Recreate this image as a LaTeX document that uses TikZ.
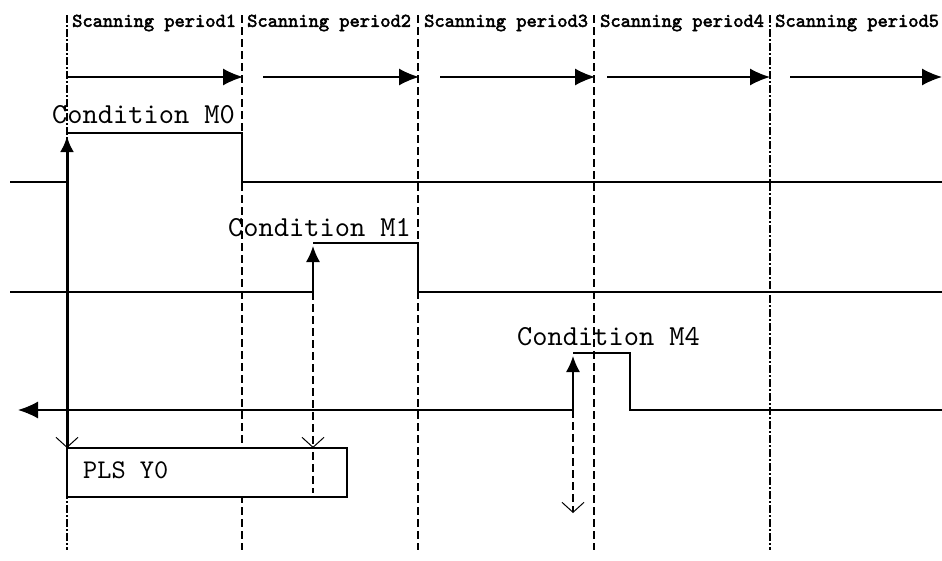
\documentclass[tikz,border=0pt]{standalone}
\usepackage{fontspec}
\newfontfamily\monofont{lmmono10-regular.otf}
\newfontfamily\boldmono[FakeBold=2.5]{lmmono10-regular.otf}
\usetikzlibrary{arrows.meta}
\begin{document}
\begin{tikzpicture}[x=1pt,y=-1pt,
 vline/.style={line width=1.2pt, dash pattern=on 8pt off 4pt},
 vlinedd/.style={line width=1.8pt, dash pattern=on 8pt off 2pt on 2pt off 2pt},
 sig/.style={line width=1.4pt},
 period/.style={font=\boldmono\fontsize{19.5}{19.5}\selectfont, anchor=west, inner sep=0pt},
 cond/.style={font=\monofont\fontsize{29}{29}\selectfont, anchor=west, inner sep=0pt},
 topar/.style={line width=1.4pt, -{Latex[length=20pt,width=17pt]}},
 uptip/.style={-{Latex[length=16pt,width=14pt]}},
 opentip/.style={-{Straight Barb[length=10pt,width=22pt,line width=1pt]}},
]
\useasboundingbox[fill=white] (0,0) rectangle (942,560);
% time coordinates
\foreach \n/\x in {a/67,b/242,c/418,d/594,e/770}{
  \coordinate (\n top) at (\x,15);
  \coordinate (\n bot) at (\x,550);
}
\draw[vlinedd] (atop) -- (abot);
\draw[vline] (btop) -- (bbot);
\draw[vline] (ctop) -- (cbot);
\draw[vline] (dtop) -- (dbot);
\draw[vlinedd] (etop) -- (ebot);
% period labels
\node[period] (p1) at (72,23) {Scanning period1};
\node[period] (p2) at (247,23) {Scanning period2};
\node[period] (p3) at (424,23) {Scanning period3};
\node[period] (p4) at (600,23) {Scanning period4};
\node[period] (p5) at (775,23) {Scanning period5};
% period arrows
\coordinate (s1) at (67,77);  \coordinate (e1) at (243,77);
\coordinate (s2) at (263,77); \coordinate (e2) at (419,77);
\coordinate (s3) at (440,77); \coordinate (e3) at (595,77);
\coordinate (s4) at (607,77); \coordinate (e4) at (770,77);
\coordinate (s5) at (790,77); \coordinate (e5) at (942,77);
\foreach \i in {1,...,5}{ \draw[topar] (s\i) -- (e\i); }
% PLS box
\draw[sig, fill=white] (67,448) rectangle (347,497);
\node[cond, font=\monofont\fontsize{27}{27}\selectfont] (pls) at (83,470) {PLS Y0};
% signal M0
\coordinate (m0l) at (10,182);
\coordinate (m0r) at (67,182);
\coordinate (m0h) at (67,133);
\coordinate (m0f) at (242,133);
\coordinate (m0fl) at (242,182);
\coordinate (m0end) at (942,182);
\draw[sig] (m0l) -- (m0r);
\draw[sig] (m0h) -- (m0f) -- (m0fl) -- (m0end);
\coordinate (m0bot) at (67,448);
\coordinate (m0tip) at (67,136);
\draw[line width=3pt, uptip] (67,300) -- (m0tip);
\draw[line width=3pt, opentip] (67,300) -- (m0bot);
% signal M1
\coordinate (m1l) at (10,292);
\coordinate (m1r) at (313,292);
\coordinate (m1h) at (313,243);
\coordinate (m1f) at (418,243);
\coordinate (m1fl) at (418,292);
\coordinate (m1end) at (942,292);
\draw[sig] (m1l) -- (m1r);
\draw[sig] (m1h) -- (m1f) -- (m1fl) -- (m1end);
\draw[sig, uptip] (m1r) -- (313,246);
\draw[vline, opentip] (m1r) -- (313,448);
\draw[vline] (313,452) -- (313,493);
% signal M4
\coordinate (m4r) at (573,410);
\coordinate (m4l) at (18,410);
\coordinate (m4h) at (573,353);
\coordinate (m4f) at (630,353);
\coordinate (m4fl) at (630,410);
\coordinate (m4end) at (942,410);
\draw[sig, -{Latex[length=20pt,width=17pt]}] (m4r) -- (m4l);
\draw[sig] (m4h) -- (m4f) -- (m4fl) -- (m4end);
\draw[sig, uptip] (m4r) -- (573,356);
\draw[vline, opentip] (m4r) -- (573,513);
% condition labels
\node[cond] (c0) at (52,115) {Condition M0};
\node[cond] (c1) at (228,228) {Condition M1};
\node[cond] (c4) at (517,337) {Condition M4};
\end{tikzpicture}
\end{document}
